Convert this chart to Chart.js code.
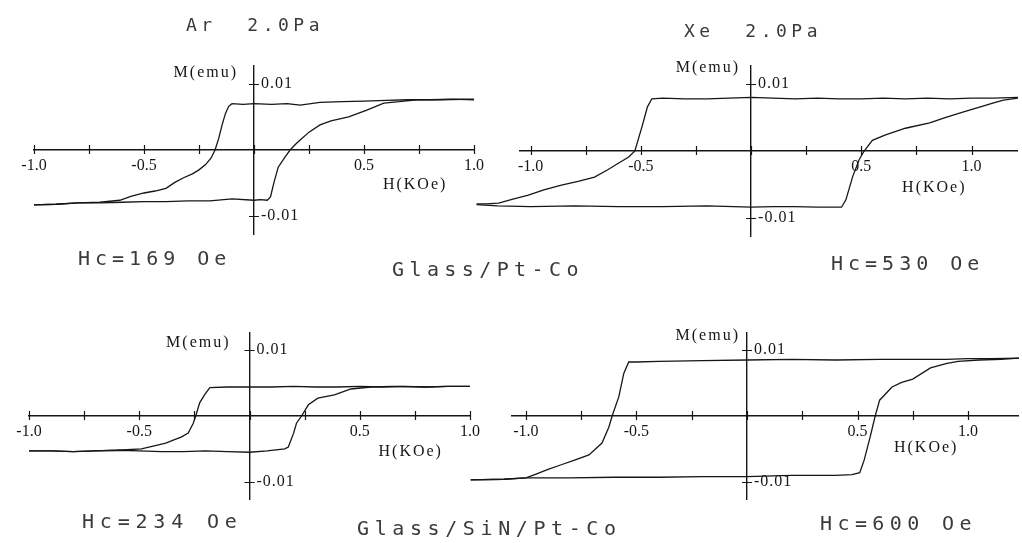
<!DOCTYPE html>
<html>
<head>
<meta charset="utf-8">
<script src="https://cdn.jsdelivr.net/npm/chart.js@4.4.1/dist/chart.umd.min.js"></script>
<style>
  html, body { margin: 0; padding: 0; background: #fff; }
  #page { position: relative; width: 1022px; height: 543px; overflow: hidden; }
  #page canvas { position: absolute; left: 0; top: 0; }
  .lbl { position: absolute; font-family: "DejaVu Sans Mono", monospace; color: #3a3a3a; line-height: 1; white-space: pre; }
</style>
</head>
<body>
<div id="page">
  <canvas id="c1" width="1022" height="543"></canvas>
  <canvas id="c2" width="1022" height="543"></canvas>
  <canvas id="c3" width="1022" height="543"></canvas>
  <canvas id="c4" width="1022" height="543"></canvas>

  <div class="lbl" style="left:186px; top:16px; font-size:18px; letter-spacing:4.5px">Ar  2.0Pa</div>
  <div class="lbl" style="left:684px; top:22px; font-size:18px; letter-spacing:4.5px">Xe  2.0Pa</div>
  <div class="lbl" style="left:78px; top:248px; font-size:20px; letter-spacing:5px">Hc=169 Oe</div>
  <div class="lbl" style="left:392px; top:259px; font-size:20px; letter-spacing:5.4px">Glass/Pt-Co</div>
  <div class="lbl" style="left:831px; top:253px; font-size:20px; letter-spacing:5px">Hc=530 Oe</div>
  <div class="lbl" style="left:82px; top:511px; font-size:20px; letter-spacing:5.8px">Hc=234 Oe</div>
  <div class="lbl" style="left:357px; top:518px; font-size:20px; letter-spacing:5.6px">Glass/SiN/Pt-Co</div>
  <div class="lbl" style="left:820px; top:513px; font-size:20px; letter-spacing:5.4px">Hc=600 Oe</div>
</div>

<script>
// tick marks and labels shared by all four loops
const xTickValues = [-1.0, -0.75, -0.5, -0.25, 0, 0.25, 0.5, 0.75, 1.0];
const xTickLabels = ['-1.0', '', '-0.5', '', '', '', '0.5', '', '1.0'];
const yTickValues = [-0.01, 0.01];
const yTickLabels = ['-0.01', '0.01'];
const xTitle = 'H(KOe)';
const yTitle = 'M(emu)';

// Glass/Pt-Co, Ar 2.0Pa  (H in kOe, M in emu)
const arDownH = [1.00, 0.90, 0.80, 0.70, 0.60, 0.50, 0.40, 0.30, 0.21, 0.15, 0.08, 0.00, -0.05, -0.10, -0.115, -0.13, -0.145, -0.16, -0.177, -0.195, -0.22, -0.25, -0.28, -0.32, -0.36, -0.40, -0.45, -0.50, -0.56, -0.61, -0.70, -0.80, -0.90, -1.00];
const arDownM = [0.0076, 0.0077, 0.0076, 0.0076, 0.0075, 0.0074, 0.0073, 0.0072, 0.0068, 0.0070, 0.0069, 0.0070, 0.0069, 0.0070, 0.0066, 0.0055, 0.0038, 0.0018, 0.0000, -0.0012, -0.0022, -0.0030, -0.0036, -0.0042, -0.0049, -0.0058, -0.0062, -0.0065, -0.0070, -0.0076, -0.0079, -0.0080, -0.0082, -0.0083];
const arUpH = [-1.00, -0.90, -0.80, -0.70, -0.60, -0.50, -0.40, -0.30, -0.20, -0.10, 0.00, 0.03, 0.06, 0.075, 0.09, 0.11, 0.14, 0.164, 0.19, 0.21, 0.25, 0.30, 0.35, 0.43, 0.51, 0.59, 0.66, 0.74, 0.85, 1.00];
const arUpM = [-0.0083, -0.0082, -0.0080, -0.0080, -0.0079, -0.0078, -0.0078, -0.0077, -0.0077, -0.0074, -0.0076, -0.0075, -0.0076, -0.0071, -0.0050, -0.0026, -0.0011, 0.0000, 0.0009, 0.0015, 0.0027, 0.0038, 0.0044, 0.0050, 0.0060, 0.0071, 0.0073, 0.0076, 0.0076, 0.0077];

// Glass/Pt-Co, Xe 2.0Pa
const xeDownH = [1.21, 1.10, 1.00, 0.90, 0.80, 0.70, 0.60, 0.50, 0.40, 0.30, 0.20, 0.10, 0.00, -0.10, -0.20, -0.30, -0.40, -0.45, -0.47, -0.495, -0.527, -0.555, -0.60, -0.65, -0.71, -0.78, -0.86, -0.94, -1.01, -1.08, -1.145, -1.20, -1.245];
const xeDownM = [0.0080, 0.0079, 0.0079, 0.0078, 0.0079, 0.0078, 0.0079, 0.0078, 0.0078, 0.0079, 0.0078, 0.0079, 0.0080, 0.0079, 0.0078, 0.0078, 0.0079, 0.0078, 0.0066, 0.0036, 0.0000, -0.0009, -0.0018, -0.0028, -0.0039, -0.0045, -0.0051, -0.0058, -0.0066, -0.0072, -0.0078, -0.0079, -0.0079];
const xeUpH = [-1.245, -1.15, -1.00, -0.80, -0.60, -0.40, -0.20, 0.00, 0.10, 0.20, 0.30, 0.41, 0.43, 0.46, 0.49, 0.513, 0.55, 0.61, 0.70, 0.81, 0.88, 0.96, 1.04, 1.10, 1.145, 1.21];
const xeUpM = [-0.0080, -0.0082, -0.0083, -0.0082, -0.0083, -0.0083, -0.0082, -0.0084, -0.0083, -0.0083, -0.0084, -0.0084, -0.0073, -0.0039, -0.0013, 0.0000, 0.0016, 0.0024, 0.0034, 0.0042, 0.0050, 0.0058, 0.0066, 0.0072, 0.0076, 0.0079];

// Glass/SiN/Pt-Co, Ar 2.0Pa
const snArDownH = [1.00, 0.90, 0.80, 0.70, 0.60, 0.50, 0.40, 0.30, 0.20, 0.10, 0.00, -0.10, -0.18, -0.204, -0.226, -0.244, -0.255, -0.278, -0.31, -0.34, -0.38, -0.413, -0.49, -0.60, -0.70, -0.80, -0.90, -1.00];
const snArDownM = [0.0045, 0.0045, 0.0044, 0.0045, 0.0044, 0.0045, 0.0044, 0.0044, 0.0045, 0.0044, 0.0044, 0.0044, 0.0043, 0.0032, 0.0020, 0.0000, -0.0011, -0.0026, -0.0032, -0.0036, -0.0041, -0.0044, -0.0050, -0.0052, -0.0053, -0.0054, -0.0053, -0.0053];
const snArUpH = [-1.00, -0.90, -0.80, -0.70, -0.60, -0.50, -0.40, -0.30, -0.20, -0.10, 0.00, 0.08, 0.16, 0.176, 0.20, 0.213, 0.236, 0.267, 0.31, 0.385, 0.46, 0.55, 0.65, 0.80, 0.90, 1.00];
const snArUpM = [-0.0053, -0.0053, -0.0054, -0.0053, -0.0052, -0.0053, -0.0054, -0.0054, -0.0053, -0.0054, -0.0055, -0.0053, -0.0050, -0.0047, -0.0026, -0.0011, 0.0000, 0.0017, 0.0027, 0.0032, 0.0041, 0.0044, 0.0045, 0.0044, 0.0045, 0.0045];

// Glass/SiN/Pt-Co, Xe 2.0Pa
const snXeDownH = [1.23, 1.10, 1.00, 0.90, 0.80, 0.70, 0.60, 0.40, 0.20, 0.00, -0.20, -0.40, -0.50, -0.535, -0.557, -0.58, -0.61, -0.625, -0.656, -0.715, -0.78, -0.84, -0.90, -0.96, -1.00, -1.10, -1.25];
const snXeDownM = [0.0088, 0.0087, 0.0087, 0.0086, 0.0086, 0.0086, 0.0086, 0.0085, 0.0086, 0.0085, 0.0084, 0.0083, 0.0082, 0.0082, 0.0065, 0.0029, 0.0000, -0.0017, -0.0041, -0.0059, -0.0067, -0.0074, -0.0081, -0.0089, -0.0094, -0.0096, -0.0097];
const snXeUpH = [-1.25, -1.10, -1.00, -0.80, -0.60, -0.40, -0.20, 0.00, 0.20, 0.40, 0.475, 0.51, 0.53, 0.557, 0.58, 0.60, 0.656, 0.70, 0.75, 0.83, 0.905, 0.955, 1.05, 1.15, 1.23];
const snXeUpM = [-0.0097, -0.0096, -0.0094, -0.0094, -0.0093, -0.0093, -0.0092, -0.0092, -0.0090, -0.0090, -0.0089, -0.0086, -0.0067, -0.0032, 0.0000, 0.0024, 0.0044, 0.0051, 0.0056, 0.0073, 0.0080, 0.0083, 0.0085, 0.0086, 0.0088];

const ink = '#161616';
const serif = '"Liberation Serif", "Times New Roman", serif';

// where each loop sits on the page
const panels = [
  { id: 'c1', down: [arDownH, arDownM], up: [arUpH, arUpM],
    area: { left: 34, right: 474, top: 66, bottom: 234 }, xr: [-1.0, 1.0], yr: [-0.0127, 0.0127],
    mLab: { dx: -16, dy: 7 }, hLab: { at: 0.586, dy: 35 } },
  { id: 'c2', down: [xeDownH, xeDownM], up: [xeUpH, xeUpM],
    area: { left: 520, right: 1017, top: 66, bottom: 236 }, xr: [-1.048, 1.206], yr: [-0.0127, 0.0127],
    mLab: { dx: -11, dy: 2 }, hLab: { at: 0.685, dy: 37 } },
  { id: 'c3', down: [snArDownH, snArDownM], up: [snArUpH, snArUpM],
    area: { left: 29, right: 470, top: 333, bottom: 499 }, xr: [-1.0, 1.0], yr: [-0.0126, 0.0126],
    mLab: { dx: -19, dy: 10 }, hLab: { at: 0.585, dy: 36 } },
  { id: 'c4', down: [snXeDownH, snXeDownM], up: [snXeUpH, snXeUpM],
    area: { left: 512, right: 1018, top: 333, bottom: 499 }, xr: [-1.063, 1.226], yr: [-0.0126, 0.0126],
    mLab: { dx: -7, dy: 3 }, hLab: { at: 0.665, dy: 32 } }
];

function pts(h, m) {
  return h.map((v, i) => ({ x: v, y: m[i] }));
}

// crossing tick marks, y tick labels and the two axis titles
const axisMarks = {
  id: 'axisMarks',
  afterDraw(chart, args, opts) {
    const { ctx, scales: { x, y }, chartArea } = chart;
    const x0 = x.getPixelForValue(0);
    const y0 = y.getPixelForValue(0);
    ctx.save();
    ctx.strokeStyle = ink;
    ctx.lineWidth = 1.2;
    ctx.beginPath();
    xTickValues.forEach(v => {
      const px = Math.round(x.getPixelForValue(v)) + 0.5;
      ctx.moveTo(px, y0 - 5);
      ctx.lineTo(px, y0 + 4);
    });
    yTickValues.forEach(v => {
      const py = Math.round(y.getPixelForValue(v)) + 0.5;
      ctx.moveTo(x0 - 5, py);
      ctx.lineTo(x0 + 5, py);
    });
    ctx.stroke();

    ctx.fillStyle = ink;
    ctx.font = '16px ' + serif;
    ctx.textBaseline = 'middle';
    ctx.textAlign = 'left';
    ctx.letterSpacing = '1px';
    yTickValues.forEach((v, i) => {
      ctx.fillText(yTickLabels[i], x0 + 7, y.getPixelForValue(v));
    });
    ctx.letterSpacing = '2px';
    ctx.textAlign = 'right';
    ctx.fillText(yTitle, x0 + opts.mLab.dx, chartArea.top + opts.mLab.dy);
    ctx.textAlign = 'left';
    ctx.fillText(xTitle, x.getPixelForValue(opts.hLab.at), y0 + opts.hLab.dy);
    ctx.restore();
  }
};

panels.forEach(p => {
  new Chart(document.getElementById(p.id), {
    type: 'scatter',
    data: {
      datasets: [
        { data: pts(p.down[0], p.down[1]) },
        { data: pts(p.up[0], p.up[1]) }
      ]
    },
    options: {
      responsive: false,
      animation: false,
      events: [],
      showLine: true,
      layout: {
        padding: { left: p.area.left, right: 1022 - p.area.right, top: p.area.top, bottom: 543 - p.area.bottom }
      },
      elements: {
        point: { radius: 0 },
        line: { borderColor: ink, borderWidth: 1.3, tension: 0 }
      },
      datasets: { scatter: { clip: false } },
      plugins: {
        legend: { display: false },
        tooltip: { enabled: false },
        axisMarks: { mLab: p.mLab, hLab: p.hLab }
      },
      scales: {
        x: {
          type: 'linear',
          bounds: 'data',
          position: { y: 0 },
          afterBuildTicks: s => {
            s.min = p.xr[0];
            s.max = p.xr[1];
            s.ticks = xTickValues.map(v => ({ value: v }));
          },
          afterFit: s => { s.height = 0; },
          grid: { display: false, drawTicks: false },
          border: { display: true, color: ink, width: 1.6 },
          ticks: {
            autoSkip: false,
            maxRotation: 0,
            padding: 6,
            color: ink,
            font: { family: serif, size: 16 },
            callback: v => {
              const i = xTickValues.indexOf(v);
              return i < 0 ? '' : xTickLabels[i];
            }
          }
        },
        y: {
          type: 'linear',
          bounds: 'data',
          position: { x: 0 },
          afterBuildTicks: s => {
            s.min = p.yr[0];
            s.max = p.yr[1];
            s.ticks = yTickValues.map(v => ({ value: v }));
          },
          afterFit: s => { s.width = 0; },
          grid: { display: false, drawTicks: false },
          border: { display: true, color: ink, width: 1.4 },
          ticks: { display: false }
        }
      }
    },
    plugins: [axisMarks]
  });
});
</script>
</body>
</html>
